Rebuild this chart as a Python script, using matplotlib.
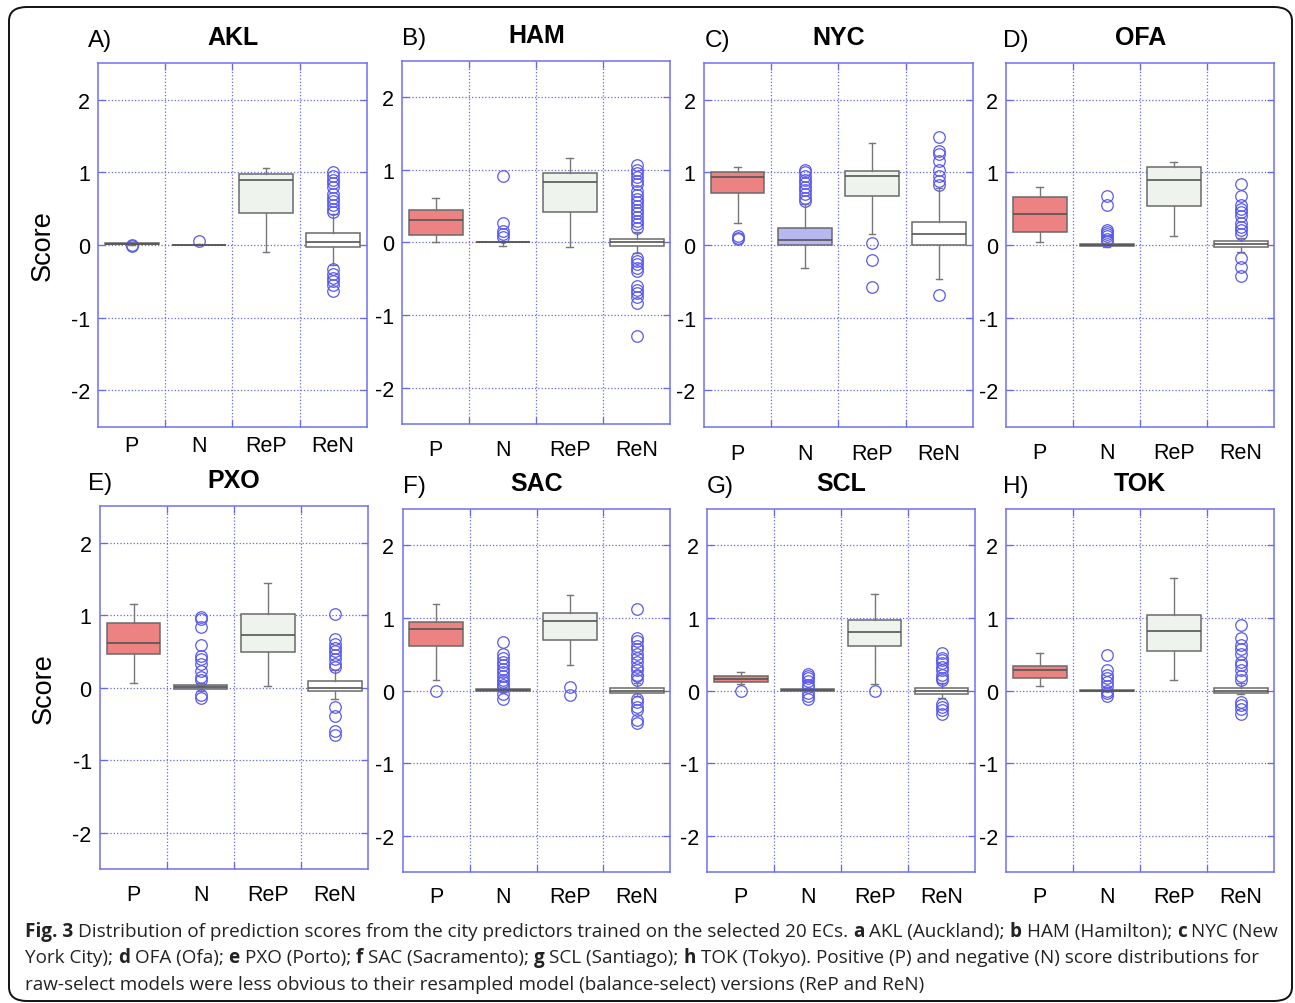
import numpy as np
import matplotlib
matplotlib.use("Agg")
from matplotlib import pyplot as plt
from matplotlib.patches import FancyBboxPatch

plt.rcParams["font.family"] = ["Liberation Sans", "DejaVu Sans"]
plt.rcParams["axes.unicode_minus"] = False

# ---- Data: box statistics (whislo, q1, med, q3, whishi) ----
categories = ["P", "N", "ReP", "ReN"]
cities = ["AKL", "HAM", "NYC", "OFA", "PXO", "SAC", "SCL", "TOK"]
letters = ["A)", "B)", "C)", "D)", "E)", "F)", "G)", "H)"]

akl_stats = [(0.0, 0.015, 0.02, 0.03, 0.035), (0.0, 0.0, 0.0, 0.005, 0.01),
             (-0.1, 0.44, 0.90, 0.98, 1.06), (-0.28, -0.03, 0.04, 0.16, 0.42)]
akl_fliers = [[0.0, -0.01], [0.05], [],
              [0.45, 0.5, 0.55, 0.6, 0.65, 0.7, 0.8, 0.85, 0.9, 0.95, 1.0,
               -0.33, -0.4, -0.45, -0.5, -0.55, -0.63]]

ham_stats = [(0.0, 0.10, 0.31, 0.45, 0.61), (-0.055, 0.0, 0.005, 0.01, 0.02),
             (-0.07, 0.42, 0.83, 0.96, 1.16), (-0.14, -0.05, 0.0, 0.05, 0.14)]
ham_fliers = [[], [0.91, 0.26, 0.15, 0.12, 0.07], [],
              [0.2, 0.25, 0.3, 0.35, 0.4, 0.45, 0.5, 0.55, 0.6, 0.65, 0.7, 0.8, 0.85, 0.9,
               0.95, 1.0, 1.06, -0.21, -0.25, -0.3, -0.35, -0.4, -0.6, -0.65, -0.7, -0.75,
               -0.84, -1.29]]

nyc_stats = [(0.30, 0.72, 0.93, 1.0, 1.07), (-0.31, 0.0, 0.07, 0.24, 0.56),
             (0.15, 0.67, 0.945, 1.02, 1.40), (-0.47, 0.0, 0.15, 0.32, 0.78)]
nyc_fliers = [[0.08, 0.1, 0.12],
              [0.6, 0.65, 0.7, 0.75, 0.8, 0.85, 0.9, 0.95, 1.0, 1.03],
              [0.03, -0.2, -0.58],
              [0.82, 0.88, 0.95, 1.03, 1.15, 1.25, 1.3, 1.48, -0.69]]

ofa_stats = [(0.04, 0.18, 0.43, 0.665, 0.80), (-0.03, -0.01, 0.0, 0.01, 0.03),
             (0.13, 0.54, 0.90, 1.07, 1.14), (-0.1, -0.03, 0.01, 0.06, 0.1)]
ofa_fliers = [[], [0.67, 0.55, 0.2, 0.18, 0.15, 0.12, 0.08, 0.05], [],
              [0.15, 0.2, 0.25, 0.3, 0.4, 0.45, 0.5, 0.55, 0.67, 0.84, -0.18, -0.3, -0.43]]

pxo_stats = [(0.06, 0.46, 0.62, 0.89, 1.15), (-0.05, -0.02, 0.01, 0.03, 0.06),
             (0.02, 0.49, 0.73, 1.02, 1.44), (-0.15, -0.04, 0.0, 0.09, 0.25)]
pxo_fliers = [[], [0.97, 0.95, 0.83, 0.59, 0.44, 0.4, 0.33, 0.23, 0.14, 0.1, -0.1, -0.14], [],
              [1.02, 0.67, 0.6, 0.55, 0.5, 0.45, 0.4, 0.33, 0.28, -0.26, -0.39, -0.6, -0.65]]

sac_stats = [(0.14, 0.61, 0.85, 0.95, 1.19), (-0.02, 0.0, 0.01, 0.02, 0.03),
             (0.35, 0.70, 0.96, 1.07, 1.31), (-0.08, -0.03, 0.0, 0.04, 0.1)]
sac_fliers = [[0.0],
              [0.67, 0.5, 0.45, 0.4, 0.35, 0.3, 0.25, 0.2, 0.15, 0.12, 0.08, 0.05, -0.05, -0.11],
              [0.05, -0.06],
              [1.12, 0.72, 0.68, 0.62, 0.58, 0.5, 0.45, 0.4, 0.33, 0.28, 0.22, 0.2, 0.15,
               -0.12, -0.16, -0.22, -0.26, -0.4, -0.45]]

scl_stats = [(0.09, 0.12, 0.16, 0.20, 0.26), (0.0, 0.0, 0.01, 0.02, 0.03),
             (0.09, 0.62, 0.81, 0.97, 1.33), (-0.1, -0.05, 0.0, 0.04, 0.1)]
scl_fliers = [[0.0], [0.23, 0.2, 0.17, 0.13, 0.08, 0.05, -0.03, -0.08, -0.12], [0.0],
              [0.52, 0.45, 0.42, 0.38, 0.33, 0.28, 0.22, 0.18, 0.15, -0.18, -0.22, -0.27, -0.32]]

tok_stats = [(0.07, 0.18, 0.29, 0.34, 0.52), (-0.005, -0.005, 0.0, 0.005, 0.005),
             (0.15, 0.55, 0.82, 1.04, 1.55), (-0.05, -0.03, 0.0, 0.03, 0.1)]
tok_fliers = [[], [0.49, 0.28, 0.22, 0.18, 0.12, 0.06, 0.0, -0.03, -0.07], [],
              [0.9, 0.72, 0.63, 0.58, 0.5, 0.4, 0.35, 0.28, 0.2, 0.15, -0.15, -0.2, -0.25, -0.32]]

all_stats = [akl_stats, ham_stats, nyc_stats, ofa_stats, pxo_stats, sac_stats, scl_stats, tok_stats]
all_fliers = [akl_fliers, ham_fliers, nyc_fliers, ofa_fliers, pxo_fliers, sac_fliers, scl_fliers, tok_fliers]

yticks = [-2, -1, 0, 1, 2]

# ---- Layout (pixels: left, top, right, bottom) ----
W, H = 1295, 1004
panel_px = [(98.3, 64.3, 366.7, 427.7), (402.3, 61.7, 670.3, 425.0),
            (704.0, 64.3, 972.7, 427.7), (1006.3, 64.3, 1274.3, 427.7),
            (100.0, 507.3, 368.3, 870.0), (402.7, 510.0, 670.3, 873.3),
            (707.3, 510.0, 975.0, 873.3), (1006.3, 510.0, 1274.3, 873.3)]
letter_dx = [-10, 0, 1, -3, -12, 0, -1, -3]
xlabel_pad = [6, 11, 12, 11, 11, 10, 10, 10]

grid_c = "#6666ee"
box_edge = "#6a6a6a"
fills = ["#ec8282", "#b8b8f0", "#eef3ee", "#ffffff"]

fig = plt.figure(figsize=(W / 100, H / 100), dpi=100)

# Outer rounded frame
frame = FancyBboxPatch((9 / W, 1 - 1002 / H), (1292 - 9) / W, (1002 - 8) / H,
                       boxstyle="round,pad=0,rounding_size=0.014",
                       transform=fig.transFigure, fill=False, edgecolor="#111111",
                       linewidth=1.4, zorder=0)
fig.patches.append(frame)

for i, (l, t, r, b) in enumerate(panel_px):
    ax = fig.add_axes([l / W, 1 - b / H, (r - l) / W, (b - t) / H])

    stats = []
    for (lo, q1, med, q3, hi), fl in zip(all_stats[i], all_fliers[i]):
        stats.append(dict(whislo=lo, q1=q1, med=med, q3=q3, whishi=hi, fliers=fl))

    bp = ax.bxp(stats, positions=[1, 2, 3, 4], widths=0.8, capwidths=0.1,
                patch_artist=True, showfliers=True,
                boxprops=dict(edgecolor=box_edge, linewidth=1.1),
                medianprops=dict(color="#555555", linewidth=1.2),
                whiskerprops=dict(color="#777777", linewidth=1.0),
                capprops=dict(color="#777777", linewidth=1.0),
                flierprops=dict(marker="o", markerfacecolor="none",
                                markeredgecolor="#5a5af0", markersize=8.3,
                                markeredgewidth=0.9))
    for patch, fc in zip(bp["boxes"], fills):
        patch.set_facecolor(fc)

    ax.set_xlim(0.5, 4.5)
    ax.set_ylim(-2.5, 2.5)
    ax.set_xticks([1, 2, 3, 4])
    ax.set_xticklabels(categories, fontsize=15.5)
    ax.set_xticks([1.5, 2.5, 3.5], minor=True)
    ax.set_yticks(yticks)
    ax.set_yticklabels([str(v) for v in yticks], fontsize=15.5)

    ax.set_axisbelow(True)
    ax.grid(axis="y", which="major", linestyle=":", color=grid_c, linewidth=0.9)
    ax.grid(axis="x", which="minor", linestyle=":", color=grid_c, linewidth=0.9)
    ax.tick_params(axis="x", which="major", length=0, pad=xlabel_pad[i])
    ax.tick_params(axis="x", which="minor", direction="in", length=5, top=True,
                   color=grid_c, width=0.9)
    ax.tick_params(axis="y", which="major", direction="in", length=5, right=True,
                   color=grid_c, width=0.9, pad=6)
    for sp in ax.spines.values():
        sp.set_color("#7070f0")
        sp.set_linewidth(1.1)

    if i % 4 == 0:
        ax.set_ylabel("Score", fontsize=19.5, labelpad=11)

    cx = (l + r) / 2
    fig.text(cx / W, 1 - (t - 26) / H, cities[i], fontsize=18, fontweight="bold",
             ha="center", va="center")
    fig.text((l + letter_dx[i]) / W, 1 - (t - 23) / H, letters[i], fontsize=17.5,
             ha="left", va="center")

# ---- Caption with mixed bold runs ----
caption_lines = [
    [("Fig. 3", True),
     (" Distribution of prediction scores from the city predictors trained on the selected 20 ECs. ", False),
     ("a", True), (" AKL (Auckland); ", False), ("b", True), (" HAM (Hamilton); ", False),
     ("c", True), (" NYC (New", False)],
    [("York City); ", False), ("d", True), (" OFA (Ofa); ", False), ("e", True),
     (" PXO (Porto); ", False), ("f", True), (" SAC (Sacramento); ", False), ("g", True),
     (" SCL (Santiago); ", False), ("h", True),
     (" TOK (Tokyo). Positive (P) and negative (N) score distributions for", False)],
    [("raw-select models were less obvious to their resampled model (balance-select) versions (ReP and ReN)", False)],
]
cap_font = ["Open Sans", "DejaVu Sans"]
renderer = fig.canvas.get_renderer()


def text_width(s, bold, size):
    tt = fig.text(0, 0, s, fontsize=size, family=cap_font,
                  fontweight="bold" if bold else "normal")
    w = tt.get_window_extent(renderer).width
    tt.remove()
    return w


def line_width(segs, size):
    sp = text_width("a a", False, size) - text_width("aa", False, size)
    total = 0
    for s, bold in segs:
        core = s.strip(" ")
        lead = len(s) - len(s.lstrip(" "))
        trail = len(s) - len(s.rstrip(" "))
        total += (lead + trail) * sp + (text_width(core, bold, size) if core else 0)
    return total


cap_size = 12 * (1245 / line_width(caption_lines[0], 12))
space_w = text_width("a a", False, cap_size) - text_width("aa", False, cap_size)
baselines = [937, 963, 990]
for segs, yb in zip(caption_lines, baselines):
    x = 25
    for s, bold in segs:
        core = s.strip(" ")
        lead = len(s) - len(s.lstrip(" "))
        trail = len(s) - len(s.rstrip(" "))
        x += lead * space_w
        if core:
            fig.text(x / W, 1 - yb / H, core, fontsize=cap_size, family=cap_font,
                     fontweight="bold" if bold else "normal", color="#222222",
                     ha="left", va="baseline")
            x += text_width(core, bold, cap_size)
        x += trail * space_w

fig.savefig("out.png", dpi=100)
